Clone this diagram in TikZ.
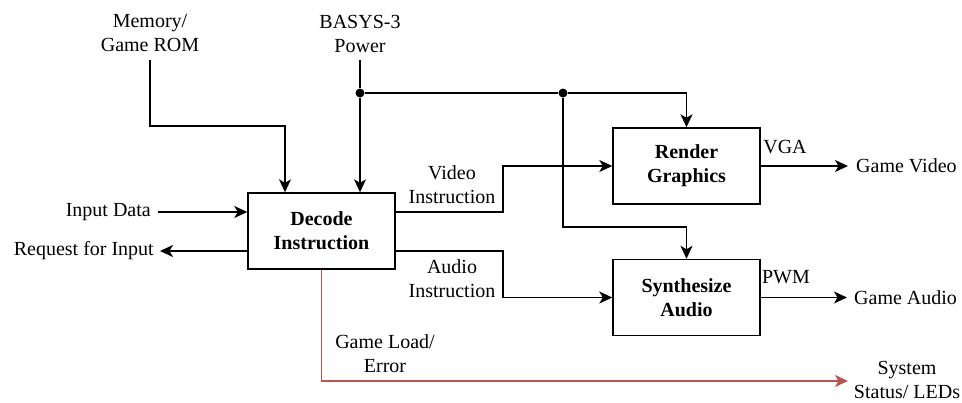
\documentclass[tikz,border=0pt]{standalone}
\usepackage{fontspec}
\setmainfont{Liberation Serif}
\usetikzlibrary{arrows.meta}
\definecolor{errred}{HTML}{B85450}
\begin{document}
\begin{tikzpicture}[x=1pt,y=-1pt,
  font=\fontsize{20}{24}\selectfont,
  block/.style={draw, line width=1.4pt, minimum width=147pt, minimum height=76pt,
    align=center, inner sep=0pt, font=\fontsize{20}{24}\selectfont\bfseries},
  lbl/.style={align=center, inner sep=0pt},
  wire/.style={line width=1.4pt, -{Stealth[length=13pt,width=12pt,inset=3.5pt]}},
  plain/.style={line width=1.4pt},
  dot/.style={circle, fill, inner sep=0pt, minimum size=9pt}]
\useasboundingbox (0,0) rectangle (962,402);

% processing blocks
\node[block] (dec) at (321.5,231) {Decode\\Instruction};
\node[block] (ren) at (686.5,166) {Render\\Graphics};
\node[block] (syn) at (686.5,297.5) {Synthesize\\Audio};

% external signals and labels
\node[lbl] (mem) at (150,33.5) {Memory/\\Game ROM};
\node[lbl] (pwr) at (360,33.5) {BASYS-3\\Power};
\node[lbl, anchor=east] (indata) at (151,212) {Input Data};
\node[lbl, anchor=east] (req) at (154,251) {Request for Input};
\node[lbl] (vid) at (452,184.5) {Video\\Instruction};
\node[lbl] (aud) at (452,278.5) {Audio\\Instruction};
\node[lbl] (vga) at (785,147) {VGA};
\node[lbl] (pwm) at (786,277) {PWM};
\node[lbl, anchor=west] (gv) at (856,166) {Game Video};
\node[lbl, anchor=west] (ga) at (854,297.5) {Game Audio};
\node[lbl] (gle) at (385,353.5) {Game Load/\\Error};
\node[lbl] (sys) at (907,379.5) {System\\Status/ LEDs};

% wire ends and bends
\coordinate (memo) at (150,60);
\coordinate (pwro) at (360,60);
\coordinate (memb) at (285,126);
\coordinate (sbend) at (686.5,227);
\coordinate (vbend) at (503,190);
\coordinate (abend) at (503,275);
\coordinate (sysin) at (848,381);

% power junctions
\node[dot] (j1) at (360,93) {};
\node[dot] (j2) at (563,93) {};

% connections
\draw[wire] (memo) |- (memb) -- (memb |- dec.north);
\draw[plain] (pwro) -- (j1);
\draw[wire] (j1) -- (j1 |- dec.north);
\draw[plain] (j1) -- (j2);
\draw[wire] (j2) -| (ren.north);
\draw[wire] (j2) |- (sbend) -- (syn.north);
\draw[wire] ([xshift=7pt]indata.east) -- (dec.west |- indata.east);
\draw[wire] (dec.west |- req.east) -- ([xshift=6pt]req.east);
\draw[wire] (dec.east |- indata.east) -| (vbend) |- (ren.west);
\draw[wire] (dec.east |- req.east) -| (abend) |- (syn.west);
\draw[wire] (ren.east) -- ([xshift=-8pt]gv.west);
\draw[wire] (syn.east) -- ([xshift=-7pt]ga.west);
\draw[wire, errred] (dec.south) |- (sysin);
\end{tikzpicture}
\end{document}
